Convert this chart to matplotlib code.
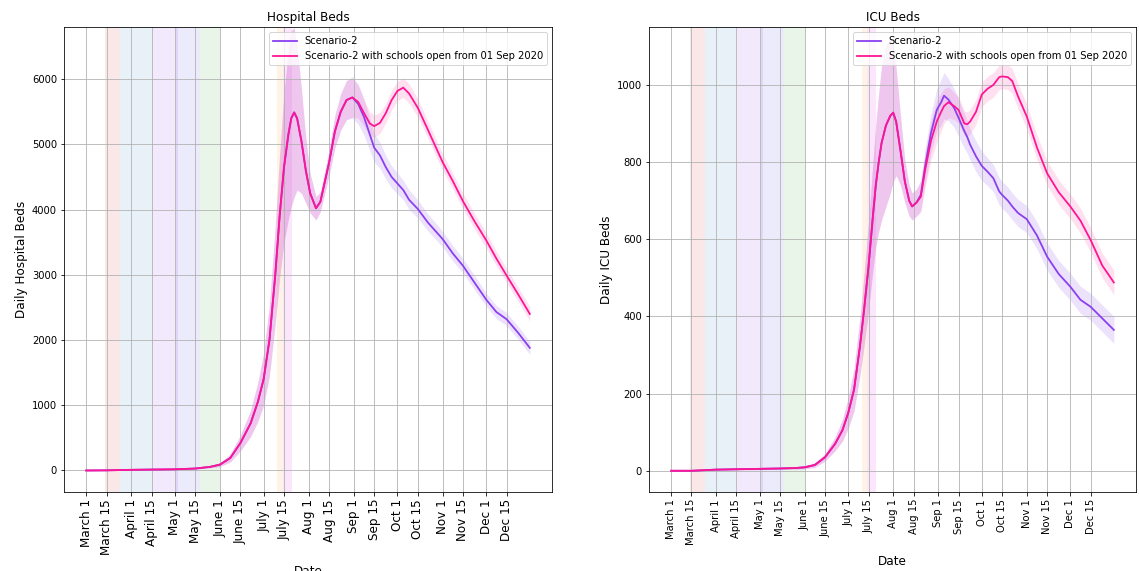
import numpy as np
import pandas as pd
import matplotlib
matplotlib.use("Agg")
import matplotlib.pyplot as plt

start = pd.Timestamp("2020-03-01")

# days since 1 March 2020
hosp_days = [0, 14, 31, 45, 61, 75, 85, 92, 99, 106, 113, 118, 122, 126, 130, 133, 136,
             139, 141, 143, 145, 148, 151, 154, 158, 161, 164, 167, 171, 175, 179, 183,
             187, 191, 195, 198, 202, 206, 210, 214, 218, 222, 228, 235, 245, 252, 259,
             267, 275, 282, 289, 297, 305]
hosp_s2 = [0, 2, 10, 14, 18, 30, 55, 90, 190, 420, 720, 1050, 1400, 2000, 3000, 3900, 4650,
           5150, 5400, 5490, 5400, 5050, 4600, 4250, 4020, 4120, 4420, 4720, 5200, 5500, 5680, 5720,
           5620, 5420, 5150, 4950, 4830, 4650, 4500, 4400, 4300, 4150, 4010, 3800, 3550, 3330, 3140,
           2880, 2620, 2430, 2320, 2110, 1880]
hosp_s2_err = [3, 3, 5, 5, 5, 8, 15, 30, 60, 120, 200, 300, 400, 550, 750, 950, 1150,
               1300, 1350, 1300, 1100, 800, 500, 300, 180, 150, 170, 200, 250, 280, 300, 320,
               310, 280, 250, 220, 200, 180, 170, 160, 150, 150, 140, 130, 120, 120, 110,
               110, 100, 100, 100, 100, 100]
hosp_sch = [0, 2, 10, 14, 18, 30, 55, 90, 190, 420, 720, 1050, 1400, 2000, 3000, 3900, 4650,
            5150, 5400, 5490, 5400, 5050, 4600, 4250, 4020, 4120, 4420, 4720, 5200, 5500, 5680, 5720,
            5650, 5480, 5320, 5280, 5330, 5480, 5680, 5820, 5870, 5780, 5560, 5220, 4730, 4440, 4130,
            3820, 3530, 3250, 2990, 2700, 2400]
hosp_sch_err = [3, 3, 5, 5, 5, 8, 15, 30, 60, 120, 200, 300, 400, 550, 750, 950, 1150,
                1300, 1350, 1300, 1100, 800, 500, 300, 180, 150, 170, 200, 250, 280, 300, 300,
                250, 200, 180, 170, 160, 150, 150, 150, 150, 150, 140, 130, 130, 120, 120,
                120, 120, 110, 110, 110, 110]

# days since 1 March 2020
icu_days = [0, 14, 31, 45, 61, 75, 85, 92, 99, 106, 113, 118, 122, 126, 130, 133, 136,
            139, 141, 143, 145, 148, 151, 153, 155, 158, 161, 164, 166, 169, 172, 175, 179,
            183, 186, 188, 191, 195, 198, 202, 204, 206, 210, 214, 218, 222, 226, 228, 232,
            235, 239, 245, 252, 259, 267, 275, 282, 289, 297, 305]
icu_s2 = [0, 0, 3, 4, 5, 6, 7, 9, 15, 35, 70, 105, 150, 210, 320, 420, 530,
          660, 740, 800, 850, 895, 920, 928, 905, 830, 750, 700, 685, 695, 715, 790, 875,
          935, 955, 972, 962, 940, 915, 880, 865, 845, 815, 790, 775, 758, 724, 715, 700,
          685, 668, 652, 610, 555, 510, 477, 443, 425, 395, 365]
icu_s2_err = [1, 1, 2, 2, 2, 2, 3, 4, 6, 10, 18, 28, 40, 55, 75, 95, 115,
              140, 160, 180, 200, 210, 200, 180, 140, 90, 55, 40, 35, 35, 40, 45, 50,
              55, 60, 60, 55, 50, 48, 45, 42, 40, 40, 38, 36, 35, 35, 35, 35,
              35, 35, 35, 35, 35, 35, 35, 35, 35, 35, 35]
icu_sch = [0, 0, 3, 4, 5, 6, 7, 9, 15, 35, 70, 105, 150, 210, 320, 420, 530,
           660, 740, 800, 850, 895, 920, 928, 905, 830, 750, 700, 685, 695, 710, 780, 855,
           905, 930, 945, 955, 945, 935, 900, 898, 905, 930, 975, 990, 1000, 1020, 1022, 1020,
           1010, 970, 918, 838, 771, 722, 685, 648, 598, 532, 488]
icu_sch_err = [1, 1, 2, 2, 2, 2, 3, 4, 6, 10, 18, 28, 40, 55, 75, 95, 115,
               140, 160, 180, 200, 210, 200, 180, 140, 90, 55, 40, 35, 35, 40, 45, 50,
               55, 50, 45, 40, 35, 35, 32, 32, 32, 32, 32, 32, 32, 32, 32, 32,
               32, 32, 32, 32, 32, 32, 32, 32, 32, 32, 32]

tick_days = [0, 14, 31, 45, 61, 75, 92, 106, 122, 136, 153, 167, 184, 198, 214, 228,
             245, 259, 275, 289]
tick_labels = ["March 1", "March 15", "April 1", "April 15", "May 1", "May 15", "June 1",
               "June 15", "July 1", "July 15", "Aug 1", "Aug 15", "Sep 1", "Sep 15", "Oct 1",
               "Oct 15", "Nov 1", "Nov 15", "Dec 1", "Dec 15"]

# shaded policy periods (start day, end day, colour, alpha)
spans = [(13, 23.5, "tab:red", 0.1), (23.5, 45.3, "tab:blue", 0.1),
         (45.3, 63, "blueviolet", 0.1), (62, 78, "mediumblue", 0.08),
         (78, 92, "tab:green", 0.1), (131.5, 135.2, "darkorange", 0.1),
         (135.2, 141.3, "violet", 0.2)]

purple = "#8a3ff0"
pink = "deeppink"


def day(d):
    return start + pd.to_timedelta(d, unit="D")


def draw(ax, days, s2, s2_err, sch, sch_err, title, ylabel, tick_size, ylim, pad):
    x = day(np.array(days))
    for a, b, c, al in spans:
        ax.axvspan(day(a), day(b), color=c, alpha=al, lw=0)
    s2, s2_err = np.array(s2), np.array(s2_err)
    sch, sch_err = np.array(sch), np.array(sch_err)
    ax.fill_between(x, s2 - s2_err, s2 + s2_err, color=purple, alpha=0.15, lw=0)
    ax.plot(x, s2, color=purple, lw=1.8, label="Scenario-2")
    ax.fill_between(x, sch - sch_err, sch + sch_err, color=pink, alpha=0.13, lw=0)
    ax.plot(x, sch, color=pink, lw=1.8, label="Scenario-2 with schools open from 01 Sep 2020")
    ax.set_xticks(day(np.array(tick_days)))
    ax.set_xticklabels(tick_labels, rotation=90, fontsize=tick_size)
    ax.tick_params(axis="y", labelsize=10)
    ax.set_xlim(day(-15.25), day(320.25))
    ax.set_ylim(*ylim)
    ax.grid(True)
    ax.set_title(title, fontsize=12)
    ax.set_ylabel(ylabel, fontsize=12)
    ax.set_xlabel("Date", fontsize=12, labelpad=pad)
    ax.legend(loc="upper right", fontsize=10, handlelength=2.4)


fig = plt.figure(figsize=(1139 / 72, 571 / 72), dpi=72)
ax1 = fig.add_axes([64 / 1139, 1 - 492 / 571, 488 / 1139, 465 / 571])
ax2 = fig.add_axes([649 / 1139, 1 - 492 / 571, 487 / 1139, 465 / 571])

draw(ax1, hosp_days, hosp_s2, hosp_s2_err, hosp_sch, hosp_sch_err,
     "Hospital Beds", "Daily Hospital Beds", 12, (-330, 6800), 10)
draw(ax2, icu_days, icu_s2, icu_s2_err, icu_sch, icu_sch_err,
     "ICU Beds", "Daily ICU Beds", 10, (-55, 1150), 10)

fig.savefig("out.png", dpi=72)
